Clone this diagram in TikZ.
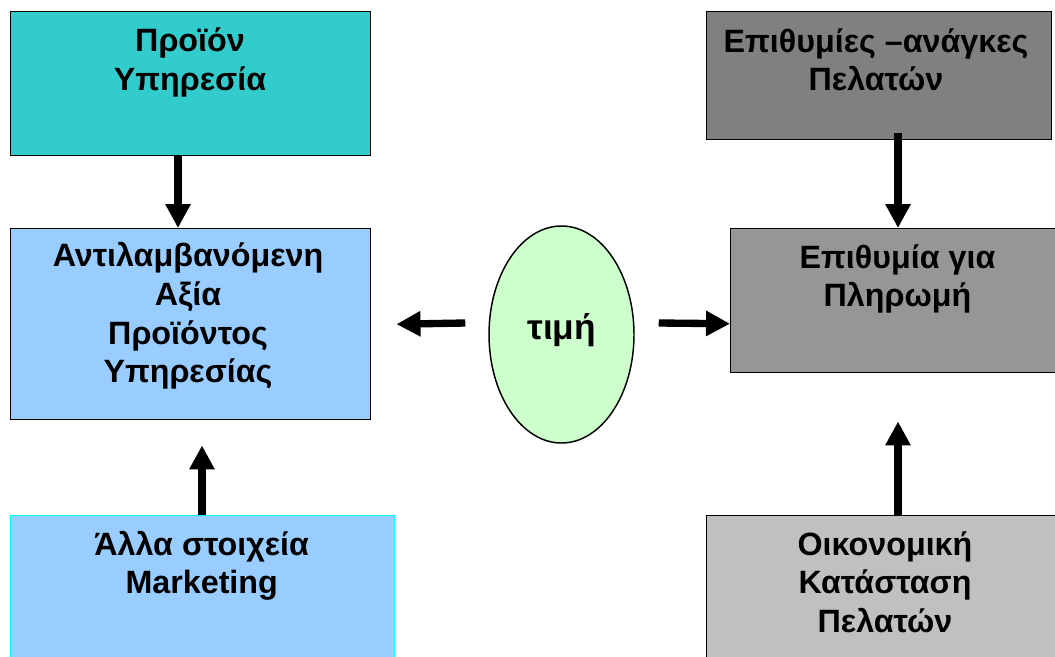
\documentclass[tikz,border=0pt]{standalone}
\usepackage{fontspec}
\setmainfont{Liberation Sans}
\usetikzlibrary{calc,arrows.meta,shapes.geometric}
\definecolor{teal1}{HTML}{33CCCC}
\definecolor{lblue}{HTML}{99CCFF}
\definecolor{lgreen}{HTML}{CCFFCC}
\definecolor{gray1}{HTML}{808080}
\definecolor{gray2}{HTML}{969696}
\definecolor{gray3}{HTML}{C0C0C0}
\definecolor{cyanb}{HTML}{00FFFF}
\newcommand\fl{\rule{0pt}{26pt}}
\tikzset{
  box/.style={draw=black, line width=1.1pt, rectangle, anchor=north west, inner sep=0pt},
  txt/.style={anchor=north, inner sep=0pt, align=center, font=\fontsize{24.2}{28.9}\selectfont\bfseries},
  arr/.style={line width=5.5pt, -{Triangle[width=18pt,length=18pt]}},
}
\begin{document}
\begin{tikzpicture}[x=0.75pt,y=-0.75pt]
\useasboundingbox (0,0) rectangle (1055,656);
\clip (0,0) rectangle (1055,656);
% boxes
\node[box, fill=teal1, minimum width=270pt, minimum height=108pt] (A) at (10,11) {};
\node[box, fill=lblue, minimum width=270pt, minimum height=143.25pt] (B) at (10,228) {};
\node[box, fill=lblue, draw=cyanb, minimum width=288pt, minimum height=138.75pt] (C) at (10,515) {};
\node[box, fill=gray1, minimum width=258.75pt, minimum height=96pt] (D) at (706,11) {};
\node[box, fill=gray2, minimum width=258.75pt, minimum height=108pt] (E) at (730,228) {};
\node[box, fill=gray3, minimum width=276.75pt, minimum height=138.75pt] (F) at (706,515) {};
\node[ellipse, draw=black, line width=1.1pt, fill=lgreen, minimum width=108.75pt, minimum height=162.75pt, inner sep=0pt] (P) at (561.5,334.5) {};
% texts
\node[txt] (tA) at (190,17) {\fl Προϊόν\\Υπηρεσία};
\node[txt] (tB) at (188,232) {\fl Αντιλαμβανόμενη\\Αξία\\Προϊόντος\\Υπηρεσίας};
\node[txt] (tC) at (201.7,520.3) {\fl Άλλα στοιχεία\\Marketing};
\node[txt] (tD) at (876,17.3) {\fl Επιθυμίες –ανάγκες\\Πελατών};
\node[txt] (tE) at (897.5,233.3) {\fl Επιθυμία για\\Πληρωμή};
\node[txt] (tF) at (885,520.3) {\fl Οικονομική\\Κατάσταση\\Πελατών};
\node[anchor=base, inner sep=0pt, font=\fontsize{26.5}{30}\selectfont\bfseries] (tP) at (561.7,339) {τιμή};
% arrows
\draw[arr] ($(A.south west)+(168,0)$) -- ($(B.north west)+(168,0)$);
\draw[arr] ($(C.north west)+(192,0)$) -- ($(B.south west)+(192,25)$);
\draw[arr] ($(P.west)+(-23,-11.5)$) -- ($(B.east)+(25,0)$);
\draw[arr] ($(P.east)+(24,-11.5)$) -- ($(E.west)+(0,23)$);
\draw[arr] ($(D.south west)+(192,-7)$) -- ($(E.north west)+(168,0)$);
\draw[arr] ($(F.north west)+(192,0)$) -- ($(E.south west)+(168,48)$);
\end{tikzpicture}
\end{document}
